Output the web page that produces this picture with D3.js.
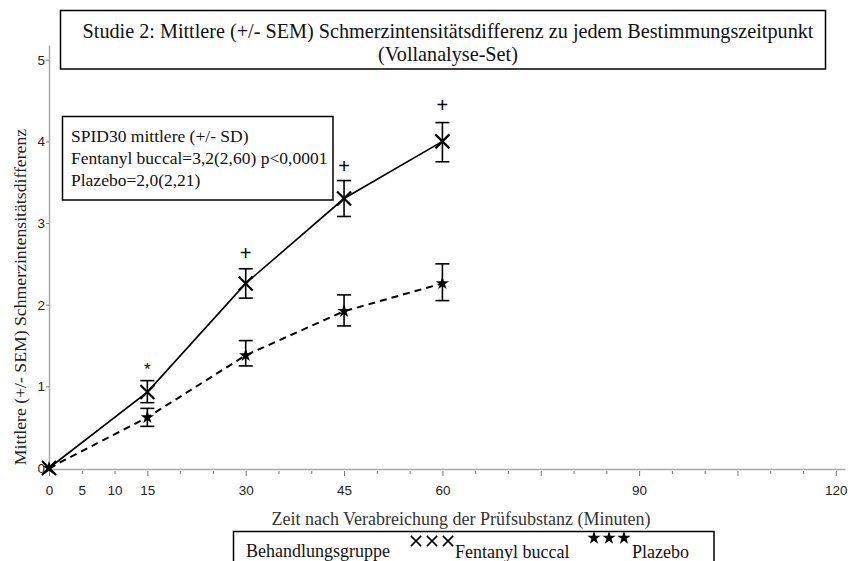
<!DOCTYPE html>
<html><head><meta charset="utf-8">
<script src="https://cdn.jsdelivr.net/npm/d3@7"></script>
<style>body{margin:0;background:#fff}svg{display:block}</style>
</head><body>
<svg id="c" width="854" height="561"></svg>
<script>
const times = [0, 15, 30, 45, 60];
const fentMean = [0, 0.93, 2.26, 3.30, 4.00];
const fentLow  = [0, 0.80, 2.08, 3.08, 3.75];
const fentHigh = [0, 1.07, 2.44, 3.52, 4.23];
const plaMean = [0, 0.62, 1.38, 1.92, 2.26];
const plaLow  = [0, 0.51, 1.25, 1.74, 2.05];
const plaHigh = [0, 0.73, 1.56, 2.12, 2.50];
const sigTimes = [15, 30, 45, 60];
const sigValues = [1.26, 2.63, 3.70, 4.44];
const sigSymbols = ["*", "+", "+", "+"];
const xTickValues = d3.range(0, 121, 5);
const xTickLabels = [0, 5, 10, 15, 30, 45, 60, 90, 120];
const yTickValues = [0, 1, 2, 3, 4, 5];
const titleLines = ["Studie 2: Mittlere (+/- SEM) Schmerzintensitätsdifferenz zu jedem Bestimmungszeitpunkt", "(Vollanalyse-Set)"];
const noteLines = ["SPID30 mittlere (+/- SD)", "Fentanyl buccal=3,2(2,60) p<0,0001", "Plazebo=2,0(2,21)"];
const xTitle = "Zeit nach Verabreichung der Prüfsubstanz (Minuten)";
const yTitle = "Mittlere (+/- SEM) Schmerzintensitätsdifferenz";
const legendTitle = "Behandlungsgruppe";
const seriesNames = ["Fentanyl buccal", "Plazebo"];

const svg = d3.select("#c");
const serif = "Liberation Serif, DejaVu Serif, serif";
const sans = "Liberation Sans, Arial, sans-serif";
const axisCol = "#a8a8a8";

const x = d3.scaleLinear().domain([0, 121.4]).range([49, 845]);
const y = d3.scaleLinear().domain([0, 5.18]).range([468, 45]);

// X axis
const xAxis = d3.axisBottom(x).tickValues(xTickValues).tickSize(5).tickSizeOuter(0)
  .tickFormat(d => xTickLabels.includes(d) ? d : "");
const gx = svg.append("g").attr("transform", "translate(0,469)").call(xAxis);
gx.select(".domain").attr("stroke", axisCol).attr("stroke-width", 1.5);
gx.selectAll(".tick line").attr("stroke", "#777").attr("stroke-width", 1)
  .attr("y1", 2).attr("y2", d => (d % 15 === 0 ? 7 : 5));
gx.selectAll(".tick text").attr("font-family", sans).attr("font-size", 13.5).attr("fill", "#222")
  .attr("y", 16).attr("dy", "0.71em");

// Y axis
const yAxis = d3.axisLeft(y).tickValues(yTickValues).tickSize(3).tickSizeOuter(0).tickFormat(d3.format("d"));
const gy = svg.append("g").attr("transform", "translate(49,0)").call(yAxis);
gy.select(".domain").attr("stroke", axisCol).attr("stroke-width", 1.5);
gy.selectAll(".tick line").attr("stroke", "#777");
gy.selectAll(".tick text").attr("font-family", sans).attr("font-size", 13.5).attr("fill", "#222").attr("x", -4);

// Axis titles
svg.append("text").attr("x", 461).attr("y", 525).attr("text-anchor", "middle")
  .attr("font-family", serif).attr("font-size", 18).attr("fill", "#333").text(xTitle);
svg.append("text").attr("transform", "translate(26,297) rotate(-90)").attr("text-anchor", "middle")
  .attr("font-family", serif).attr("font-size", 17.7).attr("fill", "#222").text(yTitle);

// Title box
svg.append("rect").attr("x", 60.5).attr("y", 10.5).attr("width", 765).attr("height", 58.5)
  .attr("fill", "#fff").attr("stroke", "#000").attr("stroke-width", 1.5);
svg.selectAll(".title").data(titleLines).enter().append("text")
  .attr("x", 448).attr("y", (d, i) => 38 + i * 23).attr("text-anchor", "middle")
  .attr("font-family", serif).attr("font-size", 20.2).attr("fill", "#111").text(d => d);

// Note box
svg.append("rect").attr("x", 62.5).attr("y", 116.5).attr("width", 270.5).attr("height", 83.5)
  .attr("fill", "#fff").attr("stroke", "#000").attr("stroke-width", 1.5);
svg.selectAll(".note").data(noteLines).enter().append("text")
  .attr("x", 71).attr("y", (d, i) => 142 + i * 22)
  .attr("font-family", serif).attr("font-size", 17.5).attr("fill", "#111").text(d => d);

// Lines
const fent = times.map((t, i) => ({t, m: fentMean[i], lo: fentLow[i], hi: fentHigh[i]}));
const pla = times.map((t, i) => ({t, m: plaMean[i], lo: plaLow[i], hi: plaHigh[i]}));
const line = d3.line().x(d => x(d.t)).y(d => y(d.m));
svg.append("path").datum(pla).attr("d", line).attr("fill", "none").attr("stroke", "#000")
  .attr("stroke-width", 2).attr("stroke-dasharray", "7,5");
svg.append("path").datum(fent).attr("d", line).attr("fill", "none").attr("stroke", "#000")
  .attr("stroke-width", 1.6);

// Error bars
function errBars(data) {
  const g = svg.append("g").attr("stroke", "#000").attr("stroke-width", 1.6);
  data.filter(d => d.t > 0).forEach(d => {
    g.append("line").attr("x1", x(d.t)).attr("x2", x(d.t)).attr("y1", y(d.lo)).attr("y2", y(d.hi));
    g.append("line").attr("x1", x(d.t) - 7).attr("x2", x(d.t) + 7).attr("y1", y(d.lo)).attr("y2", y(d.lo));
    g.append("line").attr("x1", x(d.t) - 7).attr("x2", x(d.t) + 7).attr("y1", y(d.hi)).attr("y2", y(d.hi));
  });
}
errBars(fent);
errBars(pla);

// Markers
const crossSym = d3.symbol().type(d3.symbolTimes).size(130);
const starSym = d3.symbol().type(d3.symbolStar).size(55);
svg.selectAll(".fm").data(fent).enter().append("path")
  .attr("transform", d => `translate(${x(d.t)},${y(d.m)})`).attr("d", crossSym)
  .attr("fill", "none").attr("stroke", "#000").attr("stroke-width", 2.2);
svg.selectAll(".pm").data(pla).enter().append("path")
  .attr("transform", d => `translate(${x(d.t)},${y(d.m)})`).attr("d", starSym).attr("fill", "#000");

// Significance markers
svg.selectAll(".sig").data(sigTimes).enter().append("text")
  .attr("x", d => x(d)).attr("y", (d, i) => y(sigValues[i]) + (sigSymbols[i] === "*" ? 10 : 7))
  .attr("text-anchor", "middle").attr("font-family", sans)
  .attr("font-size", (d, i) => sigSymbols[i] === "*" ? 17 : 20).attr("fill", "#000")
  .text((d, i) => sigSymbols[i]);

// Legend box
svg.append("rect").attr("x", 233.5).attr("y", 531.5).attr("width", 480.5).attr("height", 40)
  .attr("fill", "#fff").attr("stroke", "#000").attr("stroke-width", 1.5);
svg.append("text").attr("x", 246).attr("y", 557).attr("font-family", serif).attr("font-size", 18)
  .attr("fill", "#111").text(legendTitle);
const legCross = d3.symbol().type(d3.symbolTimes).size(70);
[0, 1, 2].forEach(k => {
  svg.append("path").attr("transform", `translate(${416 + k * 16},541)`).attr("d", legCross)
    .attr("fill", "none").attr("stroke", "#000").attr("stroke-width", 1.5);
  svg.append("path").attr("transform", `translate(${594 + k * 15},538)`).attr("d", starSym).attr("fill", "#000");
});
svg.append("text").attr("x", 455).attr("y", 558).attr("font-family", serif).attr("font-size", 18)
  .attr("fill", "#111").text(seriesNames[0]);
svg.append("text").attr("x", 632).attr("y", 558).attr("font-family", serif).attr("font-size", 18)
  .attr("fill", "#111").text(seriesNames[1]);
</script>
</body></html>
